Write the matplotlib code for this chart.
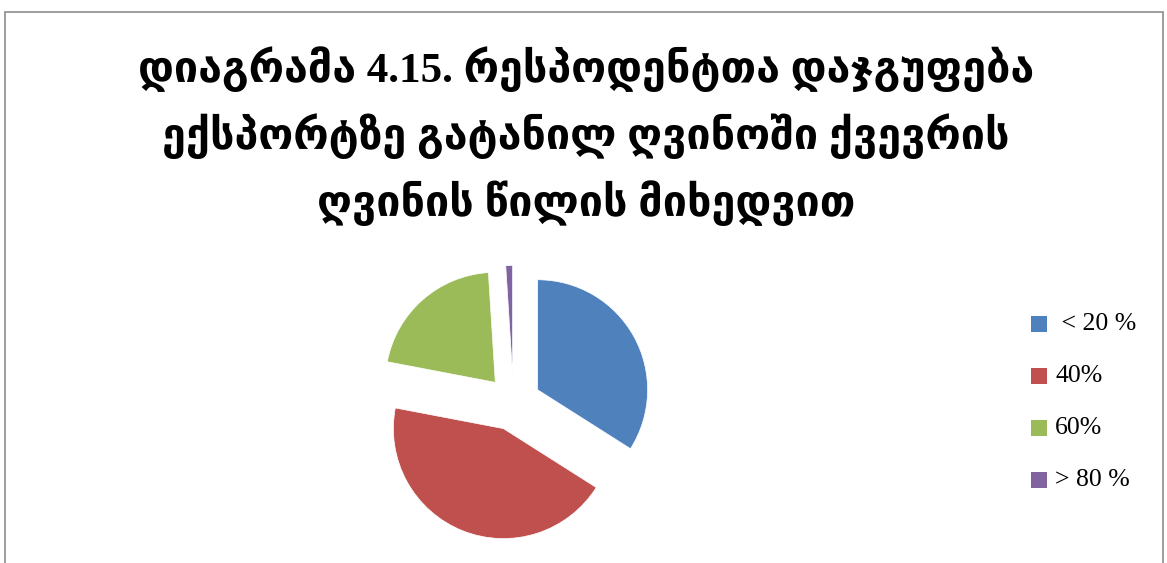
import matplotlib
matplotlib.use("Agg")
import matplotlib.pyplot as plt
from matplotlib.patches import Rectangle

# Share of qvevri wine in exported wine, respondents grouped
labels = [" < 20 %", "40%", "60%", "> 80 %"]
shares = [34, 44, 21, 1]
colors = ["#4F81BD", "#C0504D", "#9BBB59", "#8064A2"]
title_lines = [
    "დიაგრამა 4.15. რესპოდენტთა დაჯგუფება",
    "ექსპორტზე გატანილ ღვინოში ქვევრის",
    "ღვინის წილის მიხედვით",
]

W, H = 1167, 563
fig = plt.figure(figsize=(W / 100, H / 100), dpi=100)
fig.patch.set_facecolor("white")

# outer chart border (runs off the bottom edge)
fig.add_artist(Rectangle((4.5 / W, -0.05), (1163 - 4.5) / W, 1.05 - 11.5 / H,
                         transform=fig.transFigure, fill=False,
                         edgecolor="#8c8c8c", linewidth=1.2))

# title
title_font = ["Liberation Serif", "DejaVu Sans"]
for i, line in enumerate(title_lines):
    fig.text(586 / W, 1 - (69 + 67 * i) / H, line, ha="center", va="center",
             fontsize=31, fontweight="bold", family=title_font)

# pie: radius 1 == 110 px, centre at (513.5, 403) px
r_px = 110
half = 1.5
size = 2 * half * r_px
cx, cy = 513.5, H - 403
ax = fig.add_axes([(cx - size / 2) / W, (cy - size / 2) / H, size / W, size / H])
ax.pie(shares, colors=colors, startangle=90, counterclock=False,
       explode=[0.25] * len(shares), radius=1,
       wedgeprops=dict(edgecolor="white", linewidth=0.5))
ax.set_xlim(-half, half)
ax.set_ylim(-half, half)
ax.set_aspect("equal")
ax.axis("off")

# legend
for i, (lab, col) in enumerate(zip(labels, colors)):
    y = 324 + 52 * i
    fig.add_artist(Rectangle((1031 / W, 1 - (y + 8) / H), 16 / W, 16 / H,
                             transform=fig.transFigure, facecolor=col,
                             edgecolor="none"))
    fig.text(1055 / W, 1 - y / H, lab, ha="left", va="center",
             fontsize=18.5, family=["Liberation Serif", "DejaVu Serif"])

fig.savefig("out.png", dpi=100)
